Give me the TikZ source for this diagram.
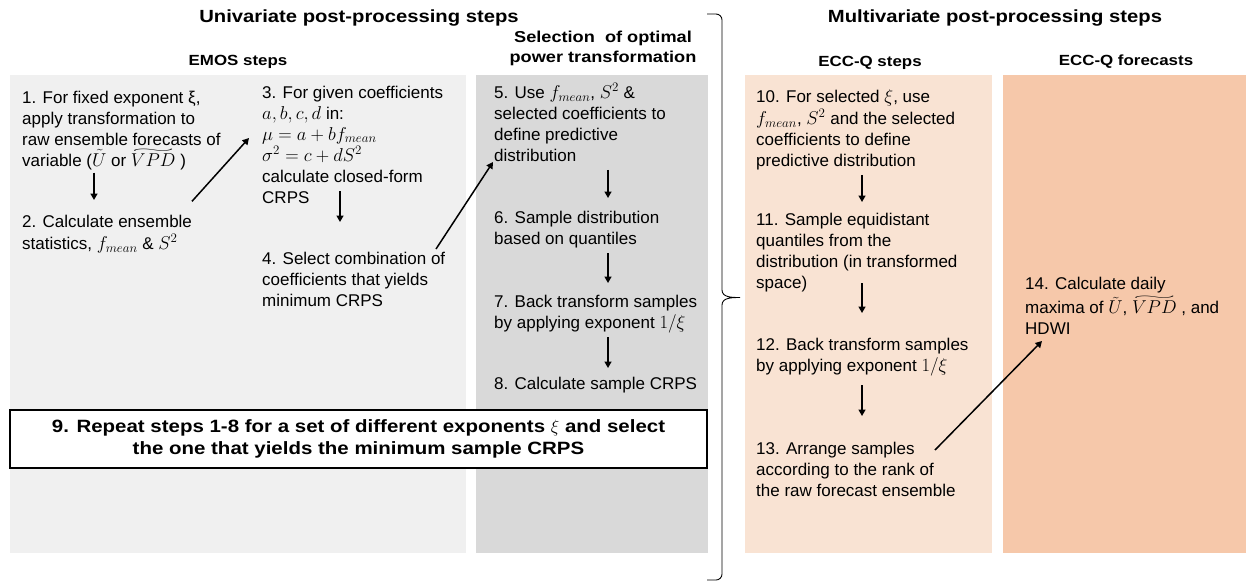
\RequirePackage{fix-cm}
\documentclass[tikz,border=0pt]{standalone}
\usepackage{fontspec}
\setmainfont{Liberation Sans}
\newfontfamily\headfont[FakeStretch=1.15]{Liberation Sans}
\DeclareMathSizes{17}{18.6}{13}{10}
\usetikzlibrary{arrows.meta,calc}
\definecolor{emosgray}{HTML}{F0F0F0}
\definecolor{selgray}{HTML}{D9D9D9}
\definecolor{eccq}{HTML}{F9E3D3}
\definecolor{eccf}{HTML}{F6C8AA}
\newcommand{\wtil}[1]{\mbox{\setbox0=\hbox{$#1$}\rlap{\raisebox{\dimexpr\ht0+1.3pt\relax}{\resizebox*{\wd0}{3.4pt}{$\sim$}}}\box0}}
\begin{document}
\begin{tikzpicture}[x=1pt,y=-1pt,
  stepnode/.style={anchor=north west, inner sep=0pt, align=left, font=\fontsize{17}{21}\selectfont},
  arr/.style={line width=1.5pt, -{Triangle[length=6.5pt,width=7pt]}},
  title/.style={inner sep=0pt, font=\headfont\bfseries\fontsize{17.6}{20}\selectfont},
  subhead/.style={inner sep=0pt, font=\headfont\bfseries\fontsize{14.7}{17}\selectfont}]
\useasboundingbox (0,0) rectangle (1246,582);
% panels
\fill[emosgray] (10,75) rectangle (466,553);
\fill[selgray] (476,75) rectangle (708,553);
\fill[eccq] (745,75) rectangle (992,553);
\fill[eccf] (1003,75) rectangle (1246,553);
% headings
\node[title] (tu) at (359,18) {Univariate post-processing steps};
\node[title] (tm) at (995,18) {Multivariate post-processing steps};
\node[subhead] (h1) at (238,62) {EMOS steps};
\node[inner sep=0pt, align=center, font=\headfont\bfseries\fontsize{15.8}{20}\selectfont] (h2) at (603,48) {Selection\ \ of optimal\\power transformation};
\node[subhead] (h3) at (870,63) {ECC-Q steps};
\node[subhead] (h4) at (1126,62) {ECC-Q forecasts};
% brace
\draw[line width=0.9pt] (707,14) -- (716,14) to[out=0,in=90] (722,20) -- (722,290) to[out=-90,in=180] (740,297.5)
  (722,305) to[out=90,in=180] (740,297.5)
  (722,305) -- (722,574) to[out=-90,in=0] (716,580) -- (707,580);
% steps
\node[stepnode] (s1) at (22,88.3) {\strut 1. For fixed exponent ξ,\\apply transformation to\\raw ensemble forecasts of\\variable ($\tilde{U}$ or $\wtil{VPD}$ )\strut};
\node[stepnode] (s2) at (22,212.3) {\strut 2. Calculate ensemble\\statistics, $f_{mean}$ \& $S^2$\strut};
\node[stepnode] (s3) at (262,83.3) {\strut 3. For given coefficients\\$a, b, c, d$ in:\\$\mu = a + bf_{mean}$\\$\sigma^2 = c + dS^2$\\calculate closed-form\\CRPS\strut};
\node[stepnode] (s4) at (262,249.3) {\strut 4. Select combination of\\coefficients that yields\\minimum CRPS\strut};
\node[stepnode] (s5) at (494,83.3) {\strut 5. Use $f_{mean}$, $S^2$ \&\\selected coefficients to\\define predictive\\distribution\strut};
\node[stepnode] (s6) at (494,208.3) {\strut 6. Sample distribution\\based on quantiles\strut};
\node[stepnode] (s7) at (494,292.3) {\strut 7. Back transform samples\\by applying exponent $1/\xi$\strut};
\node[stepnode] (s8) at (494,374.3) {\strut 8. Calculate sample CRPS\strut};
\node[draw=black, line width=1.2pt, fill=white, minimum width=697pt, minimum height=58pt, inner sep=0pt, align=center,
  font=\headfont\bfseries\fontsize{17.8}{22}\selectfont] (s9) at (358.5,439) {9. Repeat steps 1-8 for a set of different exponents $\xi$ and select\\the one that yields the minimum sample CRPS};
\node[stepnode] (s10) at (756,87.3) {\strut 10. For selected $\xi$, use\\$f_{mean}$, $S^2$ and the selected\\coefficients to define\\predictive distribution\strut};
\node[stepnode] (s11) at (756,210.3) {\strut 11. Sample equidistant\\quantiles from the\\distribution (in transformed\\space)\strut};
\node[stepnode] (s12) at (756,335.3) {\strut 12. Back transform samples\\by applying exponent $1/\xi$\strut};
\node[stepnode] (s13) at (756,439.3) {\strut 13. Arrange samples\\according to the rank of\\the raw forecast ensemble\strut};
\node[stepnode] (s14) at (1025,274.3) {\strut 14. Calculate daily\\maxima of $\tilde{U}$, $\wtil{VPD}$ , and\\HDWI\strut};
% arrows
\draw[arr] ([shift={(72,0)}]s1.south west) -- ([shift={(72,-12.3)}]s2.north west);
\draw[arr] ([shift={(170,-11)}]s2.north west) -- ([shift={(-13,54.7)}]s3.north west);
\draw[arr] ([shift={(78,-18.3)}]s3.south west) -- ([shift={(78,-27.3)}]s4.north west);
\draw[arr] ([shift={(174,-0.3)}]s4.north west) -- ([shift={(-1,78.7)}]s5.north west);
\draw[arr] ([shift={(114,1.7)}]s5.south west) -- ([shift={(114,-10.3)}]s6.north west);
\draw[arr] ([shift={(114,2.7)}]s6.south west) -- ([shift={(114,-9.3)}]s7.north west);
\draw[arr] ([shift={(114,2.7)}]s7.south west) -- ([shift={(114,-6.3)}]s8.north west);
\draw[arr] ([shift={(106,1.7)}]s10.south west) -- ([shift={(106,-8.3)}]s11.north west);
\draw[arr] ([shift={(106,-11.3)}]s11.south west) -- ([shift={(106,-22.3)}]s12.north west);
\draw[arr] ([shift={(106,7.7)}]s12.south west) -- ([shift={(106,-23.3)}]s13.north west);
\draw[arr] ([shift={(179,10.7)}]s13.north west) -- ([shift={(17,66.7)}]s14.north west);
\end{tikzpicture}
\end{document}
